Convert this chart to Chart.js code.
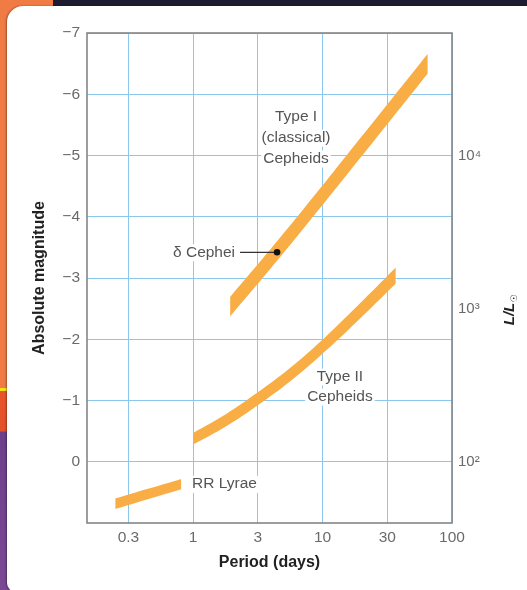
<!DOCTYPE html>
<html>
<head>
<meta charset="utf-8">
<title>Period–luminosity relation</title>
<script src="https://cdn.jsdelivr.net/npm/chart.js@4/dist/chart.umd.min.js"></script>
<style>
  html, body { margin: 0; padding: 0; background: #fff; }
  #page { position: relative; width: 527px; height: 590px; overflow: hidden; background: #1e1c31; }
  #strip { position: absolute; left: 0; top: 0; width: 30px; height: 590px;
    background: linear-gradient(to bottom, #f07b44 0, #f07b44 388px, #f3e21a 388px, #f3e21a 391px,
      #e8552a 391px, #e4512a 431px, #6c3f8c 432px, #7b4894 590px); }
  #corner { position: absolute; left: 0; top: 0; width: 53px; height: 8px; background: #f07b44; }
  #card { position: absolute; left: 7px; top: 6px; width: 540px; height: 586px; background: #fff;
    border-radius: 16px 0 0 9px; box-shadow: -1px 0 2px rgba(0,0,0,0.35); }
  canvas { position: absolute; left: 0; top: 0; }
</style>
</head>
<body>
<div id="page">
  <div id="strip"></div>
  <div id="corner"></div>
  <div id="card"></div>
  <canvas id="plc" width="527" height="590"></canvas>
</div>
<script>
// Period axis: grid lines every half decade of period
const periodTickPos = [-0.5, 0, 0.5, 1, 1.5, 2];
const periodTickLabels = ['0.3', '1', '3', '10', '30', '100'];
// Absolute magnitude ticks (left axis)
const magTicks = [-7, -6, -5, -4, -3, -2, -1, 0];
// Luminosity ticks (right axis), in solar units
const lumTicks = [100, 1000, 10000];
const lumTickLabels = ['10²', '10³', '10⁴'];

// Type I (classical) Cepheids: period (days) and band edges in absolute magnitude
const typeIPeriods = [1.93, 4.45, 12.2, 27.7, 65.0];
const typeIBright  = [-2.69, -3.60, -4.74, -5.68, -6.66];
const typeIFaint   = [-2.37, -3.28, -4.42, -5.36, -6.34];

// Type II Cepheids
const typeIIPeriods = [1.0, 1.8, 3.12, 5.6, 9.55, 18.8, 36.8];
const typeIIBright  = [-0.47, -0.78, -1.125, -1.53, -1.955, -2.555, -3.17];
const typeIIFaint   = [-0.28, -0.58, -0.915, -1.31, -1.725, -2.305, -2.91];

// RR Lyrae variables
const rrPeriods = [0.25, 0.44, 0.81];
const rrBright  = [0.60, 0.445, 0.28];
const rrFaint   = [0.77, 0.615, 0.45];

// delta Cephei itself
const deltaCepPeriod = 4.45;
const deltaCepMag = -3.42;

const FONT = "'Liberation Sans', Arial, Helvetica, sans-serif";
const bandColor = '#f9ae45';
const gridColor = '#8cc8ee';
const tickColor = '#6a6a6a';
const textColor = '#555555';

// absolute magnitude of a luminosity in solar units, as marked on the right axis
const magForLum = L => 5 - 2.5 * Math.log10(L);
const pts = (periods, mags) => periods.map((p, i) => ({ x: Math.log10(p), y: mags[i] }));

function bandEdges(periods, bright, faint) {
  const common = { borderWidth: 0, pointRadius: 0, tension: 0.4, backgroundColor: bandColor };
  return [
    Object.assign({ data: pts(periods, bright), fill: false }, common),
    Object.assign({ data: pts(periods, faint), fill: '-1' }, common)
  ];
}

const annotations = [
  { lines: ['Type I', '(classical)', 'Cepheids'], x: 0.795, y: -5.63, align: 'center', step: 20.8 },
  { lines: ['Type II', 'Cepheids'], x: 1.134, y: -1.39, align: 'center', step: 20 },
  { lines: ['RR Lyrae'], x: -0.008, y: 0.36, align: 'left', step: 20 }
];

function knockoutText(ctx, text, x, y, align) {
  const w = ctx.measureText(text).width;
  const left = align === 'center' ? x - w / 2 : (align === 'right' ? x - w : x);
  ctx.fillStyle = '#ffffff';
  ctx.fillRect(left - 2, y - 8, w + 4, 17);
  ctx.fillStyle = textColor;
  ctx.textAlign = align;
  ctx.fillText(text, x, y);
}

const decorations = {
  id: 'decorations',
  afterDatasetsDraw(chart) {
    const { ctx, chartArea: a, scales } = chart;
    ctx.save();
    ctx.font = '15.5px ' + FONT;
    ctx.textBaseline = 'middle';
    annotations.forEach(an => {
      const px = scales.x.getPixelForValue(an.x);
      const py = scales.y.getPixelForValue(an.y);
      an.lines.forEach((t, i) => knockoutText(ctx, t, px, py + i * an.step, an.align));
    });
    // delta Cephei label with leader line
    const dot = chart.getDatasetMeta(6).data[0];
    knockoutText(ctx, 'δ Cephei', dot.x - 42, dot.y, 'right');
    ctx.strokeStyle = '#333';
    ctx.lineWidth = 1.2;
    ctx.beginPath();
    ctx.moveTo(dot.x - 37, dot.y);
    ctx.lineTo(dot.x, dot.y);
    ctx.stroke();
    ctx.fillStyle = '#111';
    ctx.beginPath();
    ctx.arc(dot.x, dot.y, 3.3, 0, Math.PI * 2);
    ctx.fill();
    // plot frame
    ctx.strokeStyle = '#858585';
    ctx.lineWidth = 1.6;
    ctx.strokeRect(a.left, a.top, a.right - a.left, a.bottom - a.top);
    // right axis title L/L_sun, reading upwards
    ctx.translate(509, 310);
    ctx.rotate(-Math.PI / 2);
    ctx.fillStyle = '#222';
    ctx.textAlign = 'left';
    ctx.textBaseline = 'alphabetic';
    ctx.font = 'italic bold 15px ' + FONT;
    const main = 'L/L';
    const w1 = ctx.measureText(main).width;
    ctx.font = '9px DejaVu Sans, ' + FONT;
    const w2 = ctx.measureText('☉').width;
    const start = -(w1 + w2) / 2;
    ctx.font = 'italic bold 15px ' + FONT;
    ctx.fillText(main, start, 5);
    ctx.font = '9px DejaVu Sans, ' + FONT;
    ctx.fillText('☉', start + w1 + 0.5, 8);
    ctx.restore();
  }
};

new Chart(document.getElementById('plc'), {
  type: 'line',
  data: {
    datasets: [
      ...bandEdges(typeIPeriods, typeIBright, typeIFaint),
      ...bandEdges(typeIIPeriods, typeIIBright, typeIIFaint),
      ...bandEdges(rrPeriods, rrBright, rrFaint),
      { data: [{ x: Math.log10(deltaCepPeriod), y: deltaCepMag }], showLine: false, pointRadius: 0, fill: false }
    ]
  },
  options: {
    responsive: false,
    devicePixelRatio: 1,
    animation: false,
    layout: { padding: { top: 33, left: 0, right: 0, bottom: 0 } },
    plugins: { legend: { display: false }, tooltip: { enabled: false } },
    scales: {
      x: {
        type: 'linear', min: -0.82, max: 2,
        afterBuildTicks: s => { s.ticks = periodTickPos.map(v => ({ value: v })); },
        afterFit: s => { s.height = 67; },
        ticks: { callback: (v, i) => periodTickLabels[i], font: { family: FONT, size: 15.5 }, color: tickColor,
                 padding: 5, autoSkip: false, maxRotation: 0 },
        grid: { color: gridColor, lineWidth: 1, drawTicks: false },
        border: { display: false },
        title: { display: true, text: 'Period (days)', color: '#222',
                 font: { family: FONT, size: 16, weight: 'bold' }, padding: { top: 0, bottom: 18 } }
      },
      y: {
        type: 'linear', position: 'left', reverse: true, min: -7, max: 1,
        afterBuildTicks: s => { s.ticks = magTicks.map(v => ({ value: v })); },
        afterFit: s => { s.width = 87; },
        ticks: { callback: v => (v < 0 ? '−' + Math.abs(v) : String(v)), font: { family: FONT, size: 15.5 },
                 color: tickColor, padding: 7 },
        grid: { color: gridColor, lineWidth: 1, drawTicks: false },
        border: { display: false },
        title: { display: true, text: 'Absolute magnitude', color: '#222',
                 font: { family: FONT, size: 16, weight: 'bold' }, padding: { top: 30, bottom: 0 } }
      },
      y2: {
        type: 'linear', position: 'right', reverse: true, min: -7, max: 1,
        afterBuildTicks: s => { s.ticks = lumTicks.map(L => ({ value: magForLum(L) })); },
        afterFit: s => { s.width = 75; },
        ticks: { callback: (v, i) => lumTickLabels[i], font: { family: FONT, size: 15 }, color: tickColor, padding: 6 },
        grid: { display: false, drawTicks: false },
        border: { display: false }
      }
    }
  },
  plugins: [decorations]
});
</script>
</body>
</html>
